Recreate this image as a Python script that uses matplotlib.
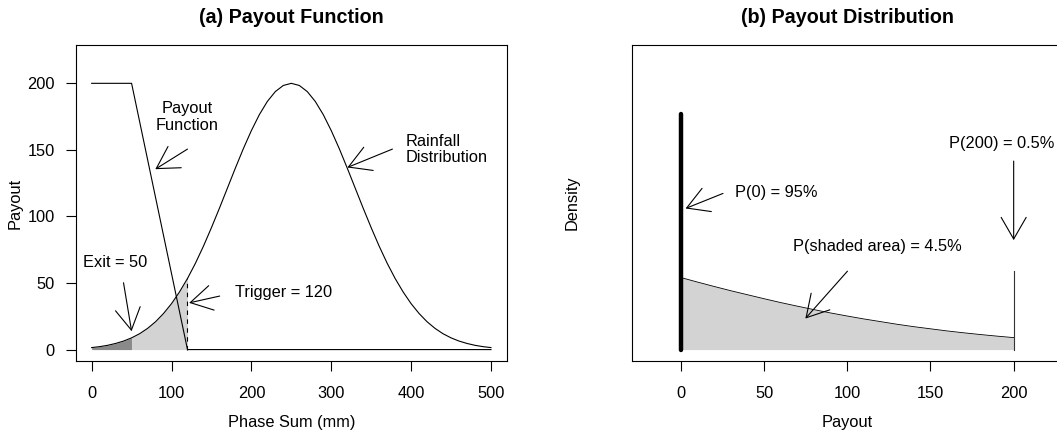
import matplotlib
matplotlib.use('Agg')
import matplotlib.pyplot as plt

plt.rcParams['font.family'] = ['Liberation Sans', 'DejaVu Sans']

# --- (a) payout function + rainfall distribution ---
rain_x = [0, 10, 20, 30, 40, 50, 60, 70, 80, 90, 100, 110, 120, 130, 140, 150,
          160, 170, 180, 190, 200, 210, 220, 230, 240, 250, 260, 270, 280, 290,
          300, 310, 320, 330, 340, 350, 360, 370, 380, 390, 400, 410, 420, 430,
          440, 450, 460, 470, 480, 490, 500]
rain_y = [1.5, 2.2, 3.2, 4.6, 6.4, 8.8, 11.9, 15.9, 20.9, 27.1, 34.5, 43.3, 53.4,
          64.9, 77.7, 91.6, 106.2, 121.3, 136.4, 151.0, 164.5, 176.5, 186.4,
          193.8, 198.4, 200.0, 198.4, 193.8, 186.4, 176.5, 164.5, 151.0, 136.4,
          121.3, 106.2, 91.6, 77.7, 64.9, 53.4, 43.3, 34.5, 27.1, 20.9, 15.9,
          11.9, 8.8, 6.4, 4.6, 3.2, 2.2, 1.5]
payout_x = [0, 50, 120, 500]
payout_y = [200, 200, 0, 0]
exit_mm = 50
trigger_mm = 120

# --- (b) payout distribution ---
dens_x = [0, 10, 20, 30, 40, 50, 60, 70, 80, 90, 100, 110, 120, 130, 140, 150,
          160, 170, 180, 190, 200]
dens_y = [54.1, 50.7, 47.4, 44.2, 41.2, 38.2, 35.3, 32.6, 30.0, 27.5, 25.2, 23.0,
          21.0, 19.0, 17.2, 15.6, 14.0, 12.6, 11.3, 10.1, 9.0]
mass_zero = 176.9   # height of the spike at 0
mass_max = 59.1     # height of the line at 200

FS = 11.8
ARROW = dict(arrowstyle='->,head_length=1.3,head_width=0.75', lw=0.8,
             color='black', shrinkA=0, shrinkB=0, mutation_scale=12)

fig = plt.figure(figsize=(10.57, 4.33), dpi=100)
ax1 = fig.add_axes([0.0716, 0.1656, 0.4080, 0.7305])
ax2 = fig.add_axes([0.5976, 0.1656, 0.4080, 0.7305])

# panel a
lo = [(x, y) for x, y in zip(rain_x, rain_y) if x <= exit_mm]
mid = [(x, y) for x, y in zip(rain_x, rain_y) if exit_mm <= x <= trigger_mm]
ax1.fill_between([p[0] for p in lo], 0, [p[1] for p in lo], color='#8a8a8a', lw=0)
ax1.fill_between([p[0] for p in mid], 0, [p[1] for p in mid], color='#d3d3d3', lw=0)
ax1.plot(payout_x, payout_y, color='black', lw=0.8)
ax1.plot(rain_x, rain_y, color='black', lw=0.8)
trig_top = dict(zip(rain_x, rain_y))[trigger_mm]
ax1.plot([trigger_mm, trigger_mm], [0, trig_top], color='black', lw=0.8,
         ls=(0, (4, 4)))

ax1.set_xlim(-20, 520)
ax1.set_ylim(-8.8, 228.8)
ax1.set_xticks([0, 100, 200, 300, 400, 500])
ax1.set_yticks([0, 50, 100, 150, 200])

ax1.annotate('', xy=(79.7, 135.5), xytext=(120, 150.6), arrowprops=ARROW)
ax1.text(120, 174.7, 'Payout\nFunction', ha='center', va='center', fontsize=FS,
         linespacing=1.1, multialignment='center')
ax1.annotate('', xy=(320.2, 136.8), xytext=(376.6, 150.6), arrowprops=ARROW)
ax1.text(392.7, 150.3, 'Rainfall\nDistribution', ha='left', va='center',
         fontsize=FS, linespacing=1.1, multialignment='left')
ax1.annotate('', xy=(50, 13.8), xytext=(39.9, 50.2), arrowprops=ARROW)
ax1.text(29.3, 65.2, 'Exit = 50', ha='center', va='center', fontsize=FS)
ax1.annotate('', xy=(122.1, 35.1), xytext=(160.3, 40.2), arrowprops=ARROW)
ax1.text(240.2, 43.2, 'Trigger = 120', ha='center', va='center', fontsize=FS)

ax1.set_xlabel('Phase Sum (mm)', fontsize=FS)
ax1.xaxis.set_label_coords(0.5, -0.194)
ax1.xaxis.label.set_va('center')
ax1.set_ylabel('Payout', fontsize=FS)
ax1.yaxis.set_label_coords(-0.140, 0.5)
ax1.yaxis.label.set_va('center')

# panel b
ax2.fill_between(dens_x, 0, dens_y, color='#d3d3d3', lw=0)
ax2.plot(dens_x, dens_y, color='black', lw=0.6)
ax2.plot([0, 0], [0, mass_zero], color='black', lw=3.2, solid_capstyle='round')
ax2.plot([200, 200], [0, mass_max], color='#333333', lw=0.8)

ax2.set_xlim(-29.6, 229.6)
ax2.set_ylim(-8.8, 228.8)
ax2.set_xticks([0, 50, 100, 150, 200])
ax2.set_yticks([])

ax2.annotate('', xy=(2.8, 106.0), xytext=(25.3, 117.3), arrowprops=ARROW)
ax2.text(57.2, 118.0, 'P(0) = 95%', ha='center', va='center', fontsize=FS)
ax2.annotate('', xy=(74.8, 23.3), xytext=(100.1, 58.9), arrowprops=ARROW)
ax2.text(117.9, 77.2, 'P(shaded area) = 4.5%', ha='center', va='center', fontsize=FS)
ax2.annotate('', xy=(200, 82.2), xytext=(200, 141.6), arrowprops=ARROW)
ax2.text(192.8, 154.6, 'P(200) = 0.5%', ha='center', va='center', fontsize=FS)

ax2.set_xlabel('Payout', fontsize=FS)
ax2.xaxis.set_label_coords(0.5, -0.194)
ax2.xaxis.label.set_va('center')
ax2.set_ylabel('Density', fontsize=FS)
ax2.yaxis.set_label_coords(-0.138, 0.5)
ax2.yaxis.label.set_va('center')

for ax in (ax1, ax2):
    for s in ax.spines.values():
        s.set_linewidth(0.8)
    ax.tick_params(axis='x', length=7.4, width=0.8, pad=10.5, labelsize=FS)
    ax.tick_params(axis='y', length=7.4, width=0.8, pad=7.7, labelsize=FS)

fig.text(0.0716 + 0.4080 / 2, 1 - 17.5 / 433, '(a) Payout Function',
         ha='center', va='center', fontsize=14.2, fontweight='bold')
fig.text(0.5976 + 0.4080 / 2, 1 - 17.5 / 433, '(b) Payout Distribution',
         ha='center', va='center', fontsize=14.2, fontweight='bold')

fig.savefig('out.png', dpi=100)
